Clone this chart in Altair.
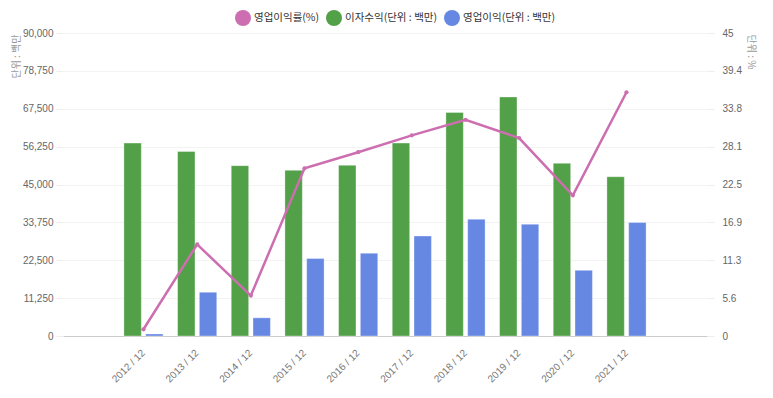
import altair as alt
import pandas as pd

periods = ["2012 / 12", "2013 / 12", "2014 / 12", "2015 / 12", "2016 / 12",
           "2017 / 12", "2018 / 12", "2019 / 12", "2020 / 12", "2021 / 12"]
interest_income = [57300, 54800, 50600, 49200, 50700, 57300, 66400, 71000, 51300, 47300]
operating_income = [600, 13000, 5400, 23000, 24600, 29700, 34700, 33200, 19500, 33700]
operating_margin = [1.0, 13.6, 6.0, 24.9, 27.3, 29.8, 32.1, 29.4, 20.9, 36.2]

s_margin = "영업이익률(%)"
s_interest = "이자수익(단위 : 백만)"
s_op = "영업이익(단위 : 백만)"

pink, green, blue = "#cc6eb0", "#52a047", "#6688e3"

left_ticks = [0, 11250, 22500, 33750, 45000, 56250, 67500, 78750, 90000]
right_ticks = [0, 5.625, 11.25, 16.875, 22.5, 28.125, 33.75, 39.375, 45]

x_domain = [""] + periods + [" "]

bars_df = pd.DataFrame({
    "period": periods * 2,
    "series": [s_interest] * len(periods) + [s_op] * len(periods),
    "value": interest_income + operating_income,
})
line_df = pd.DataFrame({"period": periods, "margin": operating_margin})

FONT = "Noto Sans CJK KR"
NUMFONT = "Liberation Sans"

x_enc = alt.X(
    "period:N",
    scale=alt.Scale(domain=x_domain, paddingInner=0.27, paddingOuter=0.135),
    axis=alt.Axis(title=None, labelAngle=-45, labelAlign="right", labelBaseline="middle",
                  ticks=False, grid=False, domainColor="#cccccc", labelPadding=15,
                  labelColor="#777777", labelFontSize=10, labelFont=NUMFONT),
)

bars = alt.Chart(bars_df).mark_bar(stroke="white", strokeWidth=1, strokeOpacity=0.35).encode(
    x=x_enc,
    xOffset=alt.XOffset("series:N", scale=alt.Scale(domain=[s_interest, s_op], paddingInner=0.2, paddingOuter=0)),
    y=alt.Y(
        "value:Q",
        stack=None,
        scale=alt.Scale(domain=[0, 90000], nice=False),
        axis=alt.Axis(values=left_ticks, labelExpr="format(datum.value, ',')", title="단위 : 백만",
                      titleX=-47, titleY=1, titleAlign="right", titleBaseline="middle",
                      titleColor="#999999", titleFontSize=10, titleFontWeight="normal",
                      titleFont=FONT, labelColor="#666666", labelFontSize=10, labelFont=NUMFONT,
                      domain=False, tickColor="#eeeeee", tickSize=7, labelPadding=3,
                      gridColor="#f3f3f3"),
    ),
    color=alt.Color(
        "series:N",
        scale=alt.Scale(domain=[s_margin, s_interest, s_op], range=[pink, green, blue]),
        legend=alt.Legend(orient="none", legendX=172, legendY=-23, direction="horizontal",
                          title=None, symbolType="circle", symbolSize=256,
                          symbolStrokeWidth=0, labelFontSize=10.5, labelColor="#333333",
                          labelFont=FONT, columnPadding=6, labelOffset=3),
    ),
)

line = alt.Chart(line_df).mark_line(
    color=pink, strokeWidth=2.5,
    point=alt.OverlayMarkDef(color=pink, size=18, filled=True),
).encode(
    x=x_enc,
    y=alt.Y(
        "margin:Q",
        scale=alt.Scale(domain=[0, 45], nice=False),
        axis=alt.Axis(orient="right", values=right_ticks, labelExpr="format(datum.value, '.1~f')",
                      title="단위 : %",
                      titleAngle=90, titleX=43, titleY=1, titleAlign="left",
                      titleBaseline="middle", titleColor="#999999", titleFontSize=10,
                      titleFontWeight="normal", titleFont=FONT, labelColor="#666666",
                      labelFontSize=10, labelFont=NUMFONT, domain=False, grid=False,
                      tickColor="#eeeeee", tickSize=7, labelPadding=8),
    ),
)

chart = alt.layer(bars, line).resolve_scale(y="independent").properties(
    width=644, height=303,
    autosize=alt.AutoSizeParams(type="none"),
    padding={"left": 55, "top": 25, "right": 58, "bottom": 54},
    background="white",
).configure_view(stroke=None)

chart.save("out.html", embed_options={"renderer": "svg", "actions": False})
